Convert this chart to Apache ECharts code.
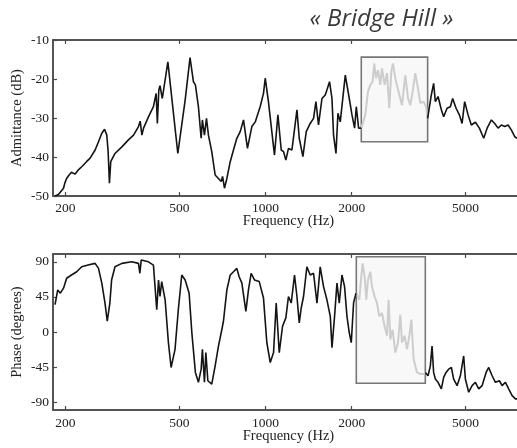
<!DOCTYPE html>
<html><head><meta charset="utf-8">
<script src="https://cdn.jsdelivr.net/npm/echarts@6/dist/echarts.min.js"></script>
<style>html,body{margin:0;padding:0;background:#fff}#c{width:517px;height:448px}</style>
</head><body><div id="c"></div>
<script>
// ---- data ----
const admFreq = [184,189,197,199,202,206,210,216,222,228,237,244,254,261,268,274,279,282,285,288,298,315,332,346,360,365,370,375,390,406,415,419,424,428,436,456,494,524,531,545,560,569,583,596,602,612,622,632,649,667,685,700,708,719,733,753,773,794,816,838,865,896,921,958,984,998,1024,1075,1105,1135,1156,1178,1203,1237,1288,1312,1351,1388,1433,1472,1500,1532,1575,1617,1639,1674,1707,1729,1763,1791,1825,1900,1962,2005,2048,2076,2115,2161,2232,2280,2323,2366,2399,2432,2472,2518,2553,2607,2658,2707,2751,2789,2841,2917,2998,3080,3147,3206,3266,3337,3410,3474,3568,3638,3685,3735,3796,3867,3921,4007,4115,4192,4308,4424,4507,4632,4757,4861,4964,5102,5236,5411,5587,5785,5946,6154,6320,6495,6671,6851,7039,7231,7424,7568,8000];
const admDb = [-50,-49.6,-48,-46.7,-45.5,-44.6,-43.9,-44.4,-43.3,-42.5,-41.2,-40.3,-38.2,-36.1,-33.9,-32.9,-34.4,-38.6,-46.7,-41.2,-39.1,-37.4,-35.6,-34.4,-32.2,-30.8,-34.4,-32.6,-29.7,-27.1,-23.7,-31.4,-22.8,-21.7,-25,-15.6,-39.1,-25.4,-25.8,-14.5,-20.7,-21.5,-27.1,-35.2,-30.5,-34.4,-30.1,-34.4,-38.6,-44.6,-45.5,-46.3,-45,-48,-45.5,-41.2,-38.2,-35.2,-33.5,-30.5,-37.8,-32.2,-31,-27.1,-23.7,-19.8,-25.8,-39.5,-29.2,-38.2,-38.6,-40.8,-37.8,-38.2,-27.9,-35.2,-39.9,-33.5,-31.4,-30.1,-25.8,-31.8,-25,-24.1,-22.8,-20.7,-25,-34.4,-39.1,-28.8,-31,-19,-25,-29.2,-32.6,-27.1,-32.6,-32.6,-29.2,-23.3,-21.5,-20.7,-16,-19.8,-17.7,-21.5,-17.3,-21.5,-18.5,-27.5,-18.1,-16,-19.8,-23.3,-26.7,-19,-25,-26.7,-23.3,-18.5,-22.4,-26.2,-25.8,-27.1,-30.1,-30.5,-24.1,-21.1,-25.8,-24.5,-27.9,-29.7,-27.5,-27.1,-25,-27.5,-29.2,-31.4,-25.8,-29.2,-31.8,-31.1,-32.6,-35.2,-32.6,-30.5,-31.4,-32.6,-31.8,-32.2,-31.8,-33.1,-34.8,-35.2,-36];
const phaseFreq = [184,188,192,197,202,210,219,228,240,254,261,268,275,280,286,290,298,315,341,360,364,368,390,406,417,423,428,434,446,458,468,483,496,510,524,531,541,553,569,583,596,602,612,619,629,649,667,685,704,713,733,753,773,794,809,827,854,872,891,915,951,984,1011,1039,1067,1090,1117,1147,1178,1203,1230,1263,1288,1312,1333,1358,1395,1433,1472,1513,1553,1595,1639,1684,1707,1743,1777,1810,1850,1889,1926,1962,1994,2031,2071,2076,2127,2161,2184,2220,2250,2280,2323,2355,2405,2452,2498,2553,2607,2658,2692,2729,2780,2841,2903,2958,2998,3062,3122,3181,3233,3293,3383,3474,3568,3617,3697,3766,3818,3867,3921,4007,4115,4192,4273,4364,4460,4543,4670,4795,4924,4992,5127,5270,5411,5557,5711,5898,6023,6190,6356,6564,6710,6888,7073,7271,7467,7587,8000];
const phaseDeg = [35,54,49.8,56.2,68.9,73.1,77.3,83.6,85.8,88,81.6,62.6,37.1,13.8,37.1,66.7,83.6,88,90,88,75.3,92.2,90,85.8,28.6,66.7,45.5,64.6,41.3,-13.7,-45.5,-22.2,28.6,73.1,66.7,68.9,49.8,-1,-51.8,-64.5,-47.6,-22.2,-64.5,-26.4,-62.5,-66.7,-43.4,-18,3.2,13.8,54,73.1,77.3,81.6,70.9,62.6,26.5,54,75.3,66.7,64.6,43.5,-13.7,-39.1,-26.4,37.1,-26.4,7.4,18.1,45.5,37.1,73.1,45.5,11.7,30.8,45.5,83.6,73.1,75.3,37.1,83.6,58.2,41.3,20.1,-20,20.1,62.6,37.1,73.1,58.2,20.1,-1,-13.7,37.1,49.8,50,41.3,70.9,88,70.9,41.3,66.7,77.3,58.2,45.5,37.1,20.1,24.4,7.4,-4.7,41.3,-9.5,3.2,-26.4,-13.7,22.3,-13.7,-4.7,-22.2,-4.7,15.9,-34.9,-51.8,-53.9,-53.9,-51.8,-56.1,-43.4,-18,-51.8,-60.3,-64.5,-73,-58.2,-51.8,-47.6,-45.5,-60.3,-68.8,-56.1,-30.7,-60.3,-77.2,-68.8,-64.5,-73,-68.8,-51.8,-45.5,-56.1,-64.5,-62.5,-68.8,-64.5,-73,-81.5,-85.7,-83.6,-86];
const freqTicks = [200, 500, 1000, 2000, 5000];
const phaseTicks = [-90, -45, 0, 45, 90];
const admBoxFreq = [2161, 3685];
const admBoxDb = [-36.1, -14.4];
const phaseBoxFreq = [2076, 3617];
const phaseBoxDeg = [-65.8, 96.4];

// ---- helpers ----
function splitSeries(freqs, vals, f0, f1) {
  const dark = [], light = [];
  let broke = false;
  freqs.forEach((f, i) => {
    if (f >= f0 && f <= f1) light.push([f, vals[i]]);
    if (f <= f0) dark.push([f, vals[i]]);
    else if (f >= f1) {
      if (!broke) { dark.push([(f0 + f1) / 2, '-']); broke = true; }
      dark.push([f, vals[i]]);
    }
  });
  return { dark, light };
}
const adm = splitSeries(admFreq, admDb, admBoxFreq[0], admBoxFreq[1]);
const ph = splitSeries(phaseFreq, phaseDeg, phaseBoxFreq[0], phaseBoxFreq[1]);

const serif = 'Liberation Serif';
const axisColor = '#4a4a4a';
const tickLabel = { fontFamily: serif, fontSize: 13.5, color: '#222' };
const nameStyle = { fontFamily: serif, fontSize: 14.5, color: '#222' };

function xAxisPair(gridIndex, nameGap, labelMargin) {
  return [{
    type: 'log', logBase: 10, gridIndex, min: 181, max: 8000, position: 'bottom',
    axisLine: { onZero: false, lineStyle: { color: axisColor, width: 1.5 } },
    axisTick: { inside: true, length: 4, customValues: freqTicks, lineStyle: { color: axisColor, width: 1.2 } },
    minorTick: { show: false }, splitLine: { show: false },
    axisLabel: Object.assign({ customValues: freqTicks, margin: labelMargin, formatter: v => String(Math.round(v)) }, tickLabel),
    name: 'Frequency (Hz)', nameLocation: 'middle', nameGap, nameMoveOverlap: false,
    nameTextStyle: nameStyle
  }, {
    type: 'log', logBase: 10, gridIndex, min: 181, max: 8000, position: 'top',
    axisLine: { onZero: false, lineStyle: { color: axisColor, width: 1.5 } },
    axisTick: { inside: true, length: 4, customValues: freqTicks, lineStyle: { color: axisColor, width: 1.2 } },
    minorTick: { show: false }, splitLine: { show: false },
    axisLabel: { show: false }
  }];
}

const chart = echarts.init(document.getElementById('c'), null, { renderer: 'canvas' });
const lineDark = { color: '#141414', width: 1.6 };
const lineLight = { color: '#cdcdcd', width: 2 };
const boxStyle = { color: 'rgba(235,235,235,0.35)', borderColor: '#777', borderWidth: 1.6 };

chart.setOption({
  animation: false,
  backgroundColor: '#fff',
  graphic: [{
    type: 'text', x: 381.5, y: 19, z: 10,
    style: { text: '« Bridge Hill »', align: 'center', verticalAlign: 'middle',
      font: 'italic 24px "Open Sans"', fill: '#3a3a3a' }
  }],
  grid: [
    { left: 53, width: 471, top: 40, height: 156, outerBoundsMode: 'none', show: true, borderColor: axisColor, borderWidth: 1.5 },
    { left: 53, width: 471, top: 254, height: 156, outerBoundsMode: 'none', show: true, borderColor: axisColor, borderWidth: 1.5 }
  ],
  xAxis: [...xAxisPair(0, 17.5, 5), ...xAxisPair(1, 19, 6.5)],
  yAxis: [{
    type: 'value', gridIndex: 0, min: -50, max: -10, interval: 10,
    axisLine: { show: true, onZero: false, lineStyle: { color: axisColor, width: 1.5 } },
    axisTick: { show: true, inside: true, length: 4, lineStyle: { color: axisColor, width: 1.2 } },
    splitLine: { show: false },
    axisLabel: Object.assign({ margin: 4 }, tickLabel),
    name: 'Admittance (dB)', nameLocation: 'middle', nameGap: 28, nameMoveOverlap: false,
    nameTextStyle: nameStyle
  }, {
    type: 'value', gridIndex: 1, min: -100, max: 100,
    axisLine: { show: true, onZero: false, lineStyle: { color: axisColor, width: 1.5 } },
    axisTick: { show: true, inside: true, length: 4, customValues: phaseTicks, lineStyle: { color: axisColor, width: 1.2 } },
    splitLine: { show: false },
    axisLabel: Object.assign({ margin: 4, customValues: phaseTicks }, tickLabel),
    name: 'Phase (degrees)', nameLocation: 'middle', nameGap: 28, nameMoveOverlap: false,
    nameTextStyle: nameStyle
  }],
  series: [
    { type: 'line', xAxisIndex: 0, yAxisIndex: 0, data: adm.dark, showSymbol: false, lineStyle: lineDark, connectNulls: false, z: 3 },
    { type: 'line', xAxisIndex: 0, yAxisIndex: 0, data: adm.light, showSymbol: false, lineStyle: lineLight, z: 2,
      markArea: { silent: true, itemStyle: boxStyle,
        data: [[{ coord: [admBoxFreq[0], admBoxDb[1]] }, { coord: [admBoxFreq[1], admBoxDb[0]] }]] } },
    { type: 'line', xAxisIndex: 2, yAxisIndex: 1, data: ph.dark, showSymbol: false, lineStyle: lineDark, connectNulls: false, z: 3 },
    { type: 'line', xAxisIndex: 2, yAxisIndex: 1, data: ph.light, showSymbol: false, lineStyle: lineLight, z: 2,
      markArea: { silent: true, itemStyle: boxStyle,
        data: [[{ coord: [phaseBoxFreq[0], phaseBoxDeg[1]] }, { coord: [phaseBoxFreq[1], phaseBoxDeg[0]] }]] } }
  ]
});
</script></body></html>
